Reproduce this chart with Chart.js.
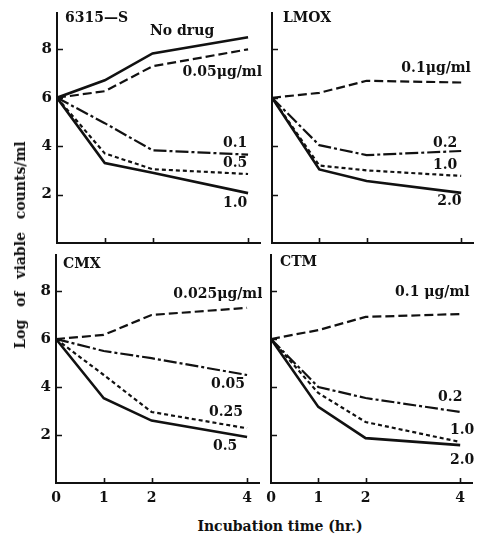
<!DOCTYPE html>
<html>
<head>
<meta charset="utf-8">
<script src="https://cdn.jsdelivr.net/npm/chart.js@4.4.0/dist/chart.umd.min.js"></script>
<style>
  body { margin: 0; background: #fff; }
  #fig { position: relative; width: 481px; height: 537px; overflow: hidden; }
  #fig canvas { position: absolute; }
  .txt { position: absolute; font-family: 'DejaVu Serif', serif; font-weight: bold; color: #111; white-space: nowrap; }
</style>
</head>
<body>
<div id="fig">
  <canvas id="pTL" width="262" height="248" style="left:0;top:0"></canvas>
  <canvas id="pTR" width="219" height="248" style="left:262px;top:0"></canvas>
  <canvas id="pBL" width="262" height="260" style="left:0;top:250px"></canvas>
  <canvas id="pBR" width="219" height="260" style="left:262px;top:250px"></canvas>
  <div class="txt" id="ylab" style="font-size:14px;word-spacing:8px;left:20px;top:245px;transform:translate(-50%,-50%) rotate(-90deg);">Log of viable counts/ml</div>
  <div class="txt" style="font-size:14px;left:280px;top:526px;transform:translate(-50%,-50%);">Incubation time (hr.)</div>
</div>
<script>
// sampling times (hr.)
const hours = [0, 1, 2, 4];
const xTicks = [0, 1, 2, 4];
const yTicks = [2, 4, 6, 8];

// 6315-S control panel (top left)
const ctlNoDrug = [6.0, 6.72, 7.83, 8.5];
const ctl005 = [6.0, 6.27, 7.3, 8.0];
const ctl01 = [6.0, 4.95, 3.83, 3.65];
const ctl05 = [6.0, 3.7, 3.05, 2.85];
const ctl10 = [6.0, 3.3, 2.9, 2.06];

// LMOX
const lmox01 = [6.0, 6.2, 6.7, 6.63];
const lmox02 = [6.0, 4.04, 3.63, 3.8];
const lmox10 = [6.0, 3.2, 3.0, 2.77];
const lmox20 = [6.0, 3.04, 2.56, 2.07];

// CMX
const cmx0025 = [6.0, 6.17, 7.0, 7.3];
const cmx005 = [6.0, 5.5, 5.2, 4.5];
const cmx025 = [6.0, 4.5, 2.96, 2.28];
const cmx05 = [6.0, 3.53, 2.6, 1.92];

// CTM
const ctm01 = [6.0, 6.37, 6.92, 7.04];
const ctm02 = [6.0, 4.0, 3.54, 2.96];
const ctm10 = [6.0, 3.75, 2.54, 1.71];
const ctm20 = [6.0, 3.17, 1.87, 1.58];

const SOLID = [];
const DASHED = [9, 4];
const DASHDOT = [13, 3, 3, 3];
const DOTTED = [4, 3];

const serif = "'DejaVu Serif', serif";

function series(vals, dash, width) {
  return {
    data: hours.map((h, i) => ({ x: h, y: vals[i] })),
    borderColor: '#111',
    borderWidth: width || 2.2,
    borderDash: dash,
    pointRadius: 0,
    tension: 0,
    fill: false
  };
}

// inward tick marks, panel title and curve labels
const annotate = {
  id: 'annotate',
  afterDraw(chart, args, opts) {
    const { ctx, chartArea, scales: { x, y } } = chart;
    ctx.save();
    ctx.strokeStyle = '#111';
    ctx.lineWidth = 1.6;
    ctx.beginPath();
    yTicks.forEach(v => {
      const py = Math.round(y.getPixelForValue(v)) + 0.5;
      ctx.moveTo(chartArea.left, py);
      ctx.lineTo(chartArea.left + 6, py);
    });
    xTicks.slice(1).forEach(v => {
      const px = Math.round(x.getPixelForValue(v)) + 0.5;
      ctx.moveTo(px, chartArea.bottom);
      ctx.lineTo(px, chartArea.bottom - 5);
    });
    ctx.stroke();

    ctx.fillStyle = '#111';
    ctx.textBaseline = 'middle';
    ctx.textAlign = 'left';
    ctx.font = 'bold 14px ' + serif;
    ctx.fillText(opts.title, chartArea.left + opts.titleDx, chartArea.top + opts.titleDy);

    ctx.textAlign = 'center';
    ctx.font = 'bold 14px ' + serif;
    (opts.labels || []).forEach(l => {
      ctx.fillText(l.text, x.getPixelForValue(l.x), y.getPixelForValue(l.y));
    });
    ctx.restore();
  }
};

function makePanel(id, cfg) {
  return new Chart(document.getElementById(id), {
    type: 'line',
    data: { datasets: cfg.datasets },
    options: {
      responsive: false,
      animation: false,
      events: [],
      layout: { padding: cfg.padding, autoPadding: false },
      plugins: {
        legend: { display: false },
        tooltip: { enabled: false },
        annotate: { title: cfg.title, titleDx: cfg.titleDx, titleDy: cfg.titleDy, labels: cfg.labels }
      },
      scales: {
        x: {
          type: 'linear',
          min: 0,
          max: 4.25,
          afterBuildTicks: s => { s.ticks = xTicks.map(v => ({ value: v })); },
          afterFit: s => { s.height = cfg.xh; s.paddingLeft = 0; s.paddingRight = 0; },
          grid: { display: false, drawTicks: false },
          border: { display: true, color: '#111', width: 2 },
          ticks: {
            display: cfg.xLabels,
            padding: 7,
            color: '#111',
            font: { family: serif, weight: 'bold', size: 14 },
            maxRotation: 0
          }
        },
        y: {
          type: 'linear',
          min: 0,
          max: 9.5,
          afterBuildTicks: s => { s.ticks = yTicks.map(v => ({ value: v })); },
          afterFit: s => { s.width = cfg.yw; s.paddingTop = 0; s.paddingBottom = 0; },
          grid: { display: false, drawTicks: false },
          border: { display: true, color: '#111', width: 2 },
          ticks: {
            display: cfg.yLabels,
            padding: 5,
            color: '#111',
            font: { family: serif, weight: 'bold', size: 15 }
          }
        }
      }
    },
    plugins: [annotate]
  });
}

makePanel('pTL', {
  title: '6315\u2014S', titleDx: 8, titleDy: 5,
  padding: { top: 13, right: 2, left: 0, bottom: 0 },
  xh: 5, yw: 57, xLabels: false, yLabels: true,
  datasets: [
    series(ctlNoDrug, SOLID, 2.6),
    series(ctl005, DASHED),
    series(ctl01, DASHDOT),
    series(ctl05, DOTTED),
    series(ctl10, SOLID, 2.6)
  ],
  labels: [
    { text: 'No drug', x: 2.62, y: 8.74 },
    { text: '0.05\u03bcg/ml', x: 3.46, y: 7.05 },
    { text: '0.1', x: 3.73, y: 4.12 },
    { text: '0.5', x: 3.73, y: 3.3 },
    { text: '1.0', x: 3.73, y: 1.65 }
  ]
});

makePanel('pTR', {
  title: 'LMOX', titleDx: 11, titleDy: 5,
  padding: { top: 13, right: 8, left: 0, bottom: 0 },
  xh: 5, yw: 10, xLabels: false, yLabels: false,
  datasets: [
    series(lmox01, DASHED),
    series(lmox02, DASHDOT),
    series(lmox10, DOTTED),
    series(lmox20, SOLID, 2.6)
  ],
  labels: [
    { text: '0.1\u03bcg/ml', x: 3.47, y: 7.22 },
    { text: '0.2', x: 3.66, y: 4.12 },
    { text: '1.0', x: 3.66, y: 3.22 },
    { text: '2.0', x: 3.75, y: 1.73 }
  ]
});

makePanel('pBL', {
  title: 'CMX', titleDx: 7, titleDy: 9,
  padding: { top: 5, right: 3, left: 0, bottom: 0 },
  xh: 27, yw: 56, xLabels: true, yLabels: true,
  datasets: [
    series(cmx0025, DASHED),
    series(cmx005, DASHDOT),
    series(cmx025, DOTTED),
    series(cmx05, SOLID, 2.6)
  ],
  labels: [
    { text: '0.025\u03bcg/ml', x: 3.39, y: 7.88 },
    { text: '0.05', x: 3.6, y: 4.12 },
    { text: '0.25', x: 3.56, y: 2.96 },
    { text: '0.5', x: 3.54, y: 1.54 }
  ]
});

makePanel('pBR', {
  title: 'CTM', titleDx: 9, titleDy: 7,
  padding: { top: 5, right: 9, left: 0, bottom: 0 },
  xh: 27, yw: 9, xLabels: true, yLabels: false,
  datasets: [
    series(ctm01, DASHED),
    series(ctm02, DASHDOT),
    series(ctm10, DOTTED),
    series(ctm20, SOLID, 2.6)
  ],
  labels: [
    { text: '0.1 \u03bcg/ml', x: 3.41, y: 7.96 },
    { text: '0.2', x: 3.79, y: 3.58 },
    { text: '1.0', x: 4.04, y: 2.21 },
    { text: '2.0', x: 4.04, y: 0.96 }
  ]
});
</script>
</body>
</html>
